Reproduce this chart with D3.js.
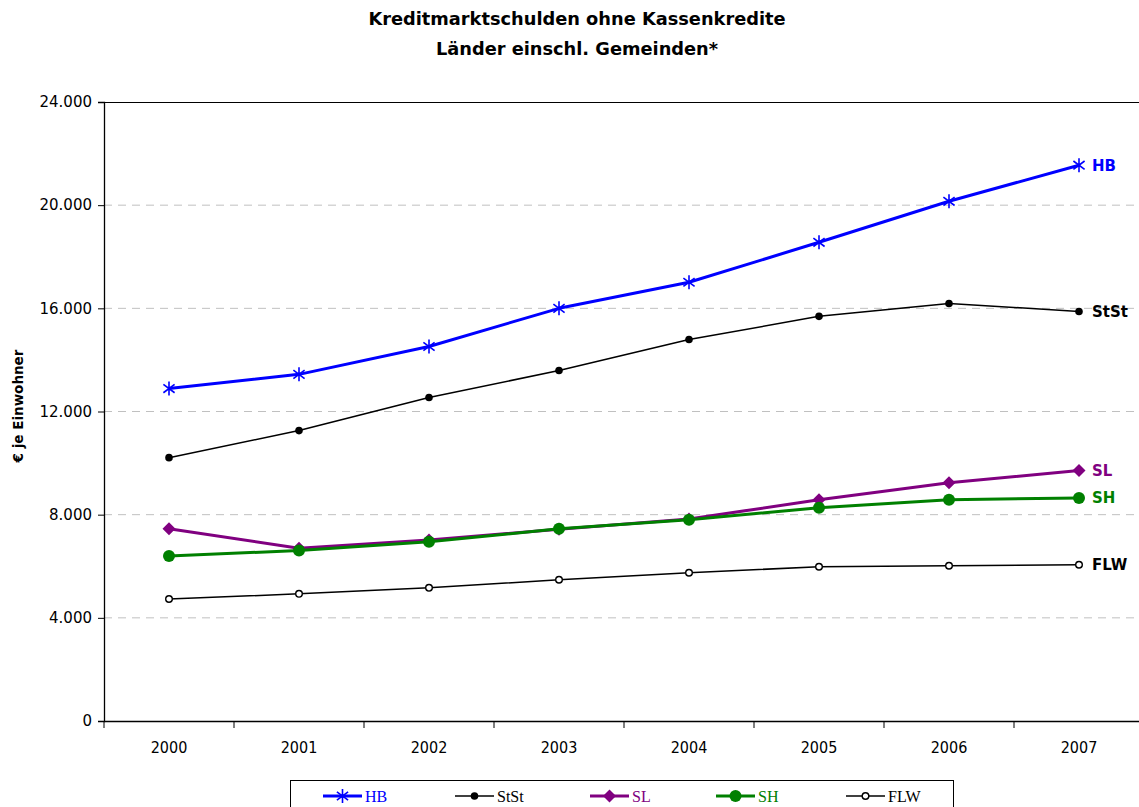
<!DOCTYPE html>
<html>
<head>
<meta charset="utf-8">
<script src="https://cdn.jsdelivr.net/npm/d3@7"></script>
<style>
  body { margin: 0; background: #fff; }
  svg { display: block; }
</style>
</head>
<body>
<div id="chart"></div>
<script>
// data
var years = ["2000", "2001", "2002", "2003", "2004", "2005", "2006", "2007"];
var hb   = [12890, 13440, 14520, 16000, 17010, 18560, 20150, 21550];
var stst = [10210, 11260, 12540, 13590, 14790, 15690, 16190, 15880];
var sl   = [7450, 6700, 7020, 7430, 7830, 8580, 9240, 9710];
var sh   = [6400, 6610, 6950, 7450, 7800, 8270, 8580, 8650];
var flw  = [4730, 4930, 5165, 5476, 5748, 5981, 6019, 6058];
var yTicks = [0, 4000, 8000, 12000, 16000, 20000, 24000];

var series = [
  { name: "HB",   values: hb,   color: "#0000ff", width: 3,   marker: "star" },
  { name: "StSt", values: stst, color: "#000000", width: 1.5, marker: "dot" },
  { name: "SL",   values: sl,   color: "#800080", width: 3,   marker: "diamond" },
  { name: "SH",   values: sh,   color: "#008000", width: 3,   marker: "bigdot" },
  { name: "FLW",  values: flw,  color: "#000000", width: 1.5, marker: "ring" }
];

var W = 1139, H = 807;
var svg = d3.select("#chart").append("svg")
  .attr("width", W)
  .attr("height", H);

var plotLeft = 104, plotTop = 102, plotBottom = 721;
var x = d3.scaleBand().domain(years).range([plotLeft, plotLeft + 8 * 130]);
var y = d3.scaleLinear().domain([0, 24000]).range([plotBottom, plotTop]);
var fmt = function(v) { return d3.format(",")(v).replace(/,/g, "."); };

// title
svg.append("text")
  .attr("x", 577).attr("y", 25)
  .attr("text-anchor", "middle")
  .style("font-family", "DejaVu Sans").style("font-weight", "bold").style("font-size", "17.8px")
  .text("Kreditmarktschulden ohne Kassenkredite");
svg.append("text")
  .attr("x", 577).attr("y", 55)
  .attr("text-anchor", "middle")
  .style("font-family", "DejaVu Sans").style("font-weight", "bold").style("font-size", "17.8px")
  .text("Länder einschl. Gemeinden*");

// gridlines
svg.append("g").selectAll("line")
  .data(yTicks.filter(function(d) { return d > 0 && d < 24000; }))
  .enter().append("line")
    .attr("x1", plotLeft).attr("x2", W)
    .attr("y1", function(d) { return y(d); })
    .attr("y2", function(d) { return y(d); })
    .style("stroke", "#c0c0c0")
    .style("stroke-dasharray", "8,6");

// top border
svg.append("line")
  .attr("x1", plotLeft).attr("x2", W).attr("y1", plotTop + 0.5).attr("y2", plotTop + 0.5)
  .style("stroke", "#000").style("stroke-width", 1);

// y axis
var yAxis = svg.append("g")
  .attr("transform", "translate(" + plotLeft + ",0)")
  .call(d3.axisLeft(y).tickValues(yTicks).tickSize(6).tickPadding(6).tickFormat(fmt));
yAxis.selectAll("text")
  .style("font-family", "DejaVu Sans").style("font-size", "15px").style("fill", "#000");
yAxis.select(".domain").style("stroke-width", 1.3);

// x axis
var xAxis = svg.append("g")
  .attr("transform", "translate(0," + plotBottom + ")")
  .call(d3.axisBottom(x).tickSize(0).tickPadding(21));
xAxis.select(".domain").style("stroke-width", 1.5);
xAxis.selectAll("text")
  .style("font-family", "DejaVu Sans Condensed, DejaVu Sans").style("font-size", "16px").style("fill", "#000");
// ticks between categories
svg.append("g").selectAll("line")
  .data(years)
  .enter().append("line")
    .attr("x1", function(d) { return x(d); })
    .attr("x2", function(d) { return x(d); })
    .attr("y1", plotBottom).attr("y2", plotBottom + 7)
    .style("stroke", "#000");

// y axis title
svg.append("text")
  .attr("transform", "translate(23,406) rotate(-90)")
  .attr("text-anchor", "middle")
  .style("font-family", "DejaVu Sans").style("font-weight", "bold").style("font-size", "13.5px")
  .text("€ je Einwohner");

function cx(i) { return x(years[i]) + x.bandwidth() / 2; }

function drawMarker(g, type, color) {
  if (type == "star") {
    var r = 7;
    g.append("path")
      .attr("d", "M" + (-r) + ",0H" + r + "M" + (-r*0.6) + "," + (-r*0.8) + "L" + (r*0.6) + "," + (r*0.8) +
                 "M" + (-r*0.6) + "," + (r*0.8) + "L" + (r*0.6) + "," + (-r*0.8))
      .attr("transform", "rotate(90)")
      .style("stroke", color).style("stroke-width", 1.6).style("fill", "none");
  } else if (type == "dot") {
    g.append("circle").attr("r", 3.8).style("fill", color);
  } else if (type == "diamond") {
    g.append("path").attr("d", "M0,-6.5L6.5,0L0,6.5L-6.5,0Z").style("fill", color);
  } else if (type == "bigdot") {
    g.append("circle").attr("r", 6).style("fill", color);
  } else if (type == "ring") {
    g.append("circle").attr("r", 3.3).style("fill", "#fff").style("stroke", color).style("stroke-width", 1.4);
  }
}

var line = d3.line()
  .x(function(d, i) { return cx(i); })
  .y(function(d) { return y(d); });

// draw in order so that SH sits above SL like the reference
var drawOrder = [4, 1, 0, 2, 3];
drawOrder.forEach(function(k) {
  var s = series[k];
  var g = svg.append("g");
  g.append("path")
    .datum(s.values)
    .attr("d", line)
    .style("fill", "none")
    .style("stroke", s.color)
    .style("stroke-width", s.width)
    .style("stroke-linejoin", "round");
  s.values.forEach(function(v, i) {
    var m = g.append("g").attr("transform", "translate(" + cx(i) + "," + y(v) + ")");
    drawMarker(m, s.marker, s.color);
  });
  // end label
  svg.append("text")
    .attr("x", cx(7) + 13)
    .attr("y", y(s.values[7]) + 5.5)
    .style("font-family", "DejaVu Sans").style("font-weight", "bold").style("font-size", "15px")
    .style("fill", s.color)
    .text(s.name);
});

// legend
var legend = svg.append("g");
legend.append("rect")
  .attr("x", 290.5).attr("y", 780.5).attr("width", 663).attr("height", 40)
  .style("fill", "#fff").style("stroke", "#000").style("stroke-width", 1);
var legX = [323, 455, 590, 716, 846];
series.forEach(function(s, i) {
  var lg = legend.append("g").attr("transform", "translate(" + legX[i] + ",796)");
  lg.append("line").attr("x1", 0).attr("x2", 39).attr("y1", 0).attr("y2", 0)
    .style("stroke", s.color).style("stroke-width", s.width);
  drawMarker(lg.append("g").attr("transform", "translate(19.5,0)"), s.marker, s.color);
  lg.append("text")
    .attr("x", 42).attr("y", 5.5)
    .style("font-family", "Liberation Serif, Times New Roman, serif").style("font-size", "16px")
    .style("fill", s.color == "#000000" ? "#000" : s.color)
    .text(s.name);
});
</script>
</body>
</html>
